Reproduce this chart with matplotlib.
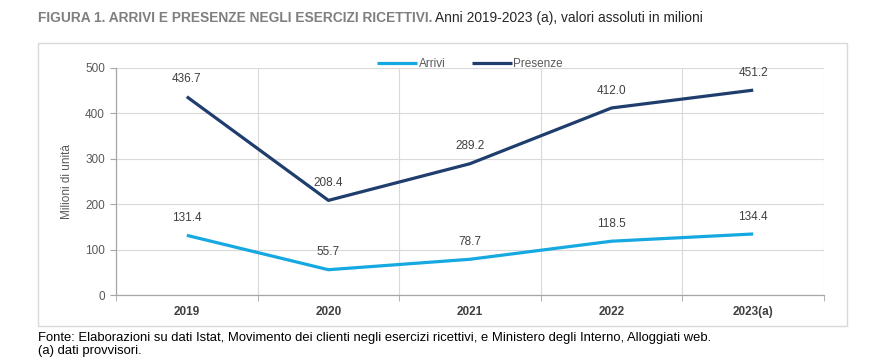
import matplotlib
matplotlib.use("Agg")
import matplotlib.pyplot as plt
from matplotlib.patches import Rectangle
import numpy as np

years = ["2019", "2020", "2021", "2022", "2023(a)"]
arrivi = [131.4, 55.7, 78.7, 118.5, 134.4]
presenze = [436.7, 208.4, 289.2, 412.0, 451.2]
yticks = [0, 100, 200, 300, 400, 500]

SANS = ["Liberation Sans", "DejaVu Sans"]
plt.rcParams["font.family"] = SANS

C_ARR = "#16a8e0"
C_PRE = "#1f3d6d"
TXT = "#404040"
GRID = "#d9d9d9"

W, H = 870, 360
fig = plt.figure(figsize=(W / 100, H / 100), dpi=100)

# outer chart frame
fig.patches.append(Rectangle((38 / W, 1 - 326 / H), (847 - 38) / W, (326 - 43) / H,
                             transform=fig.transFigure, fill=False,
                             edgecolor="#d9d9d9", linewidth=1.0))

ax = fig.add_axes([116 / W, 1 - 295 / H, (824 - 116) / W, (295 - 68) / H])
x = np.arange(len(years))
ax.plot(x, arrivi, color=C_ARR, lw=2.3, label="Arrivi", solid_capstyle="butt")
ax.plot(x, presenze, color=C_PRE, lw=2.3, label="Presenze", solid_capstyle="butt")

for xi, v in zip(x, arrivi):
    ax.annotate(f"{v:.1f}", (xi, v), xytext=(0, 12.5), textcoords="offset points",
                ha="center", va="center", fontsize=8.5, color=TXT)
for xi, v in zip(x, presenze):
    ax.annotate(f"{v:.1f}", (xi, v), xytext=(0, 12.5), textcoords="offset points",
                ha="center", va="center", fontsize=8.5, color=TXT)

ax.set_xlim(-0.5, len(years) - 0.5)
ax.set_ylim(0, 500)
ax.set_yticks(yticks)
ax.set_yticklabels([str(t) for t in yticks], fontsize=8.5, color="#595959")
ax.set_xticks(x)
ax.set_xticklabels(years, fontsize=8.5, color="#404040", fontweight="bold")
ax.set_xticks(np.arange(-0.5, len(years), 1.0), minor=True)
ax.tick_params(axis="x", which="major", length=0, pad=8)
ax.tick_params(axis="x", which="minor", length=4, color="#a6a6a6", direction="out")
ax.tick_params(axis="y", length=4, color="#a6a6a6", direction="out", pad=4)
ax.grid(axis="y", which="major", color=GRID, lw=0.8)
ax.grid(axis="x", which="minor", color=GRID, lw=0.8)
ax.set_axisbelow(True)
for s in ["top", "right"]:
    ax.spines[s].set_visible(False)
for s in ["left", "bottom"]:
    ax.spines[s].set_color("#a6a6a6")
    ax.spines[s].set_linewidth(0.9)

ax.set_ylabel("Milioni di unità", fontsize=8.5, color="#595959", labelpad=9)

leg = ax.legend(loc="lower center", bbox_to_anchor=(0.5, 0.965), ncol=2, frameon=False,
                fontsize=8.5, handlelength=3.4, handletextpad=0.15, columnspacing=2.2,
                borderaxespad=0.1)
for t in leg.get_texts():
    t.set_color("#595959")

fig.text(38 / W, 1 - 18 / H, "FIGURA 1. ARRIVI E PRESENZE NEGLI ESERCIZI RICETTIVI.",
         fontsize=9.9, fontweight="bold", color="#7f7f7f",
         va="center", ha="left")
r = fig.canvas.get_renderer()
t1 = fig.texts[-1]
bb = t1.get_window_extent(r)
fig.text(bb.x1 / W + 3 / W, 1 - 18 / H, "Anni 2019-2023 (a), valori assoluti in milioni",
         fontsize=9.9, color="#262626", va="center", ha="left")

fig.text(38 / W, 1 - 338 / H,
         "Fonte: Elaborazioni su dati Istat, Movimento dei clienti negli esercizi ricettivi, e Ministero degli Interno, Alloggiati web.",
         fontsize=9.4, color="#000000", va="center", ha="left")
fig.text(38 / W, 1 - 351 / H, "(a) dati provvisori.",
         fontsize=9.4, color="#000000", va="center", ha="left")

fig.savefig("out.png", dpi=100)
